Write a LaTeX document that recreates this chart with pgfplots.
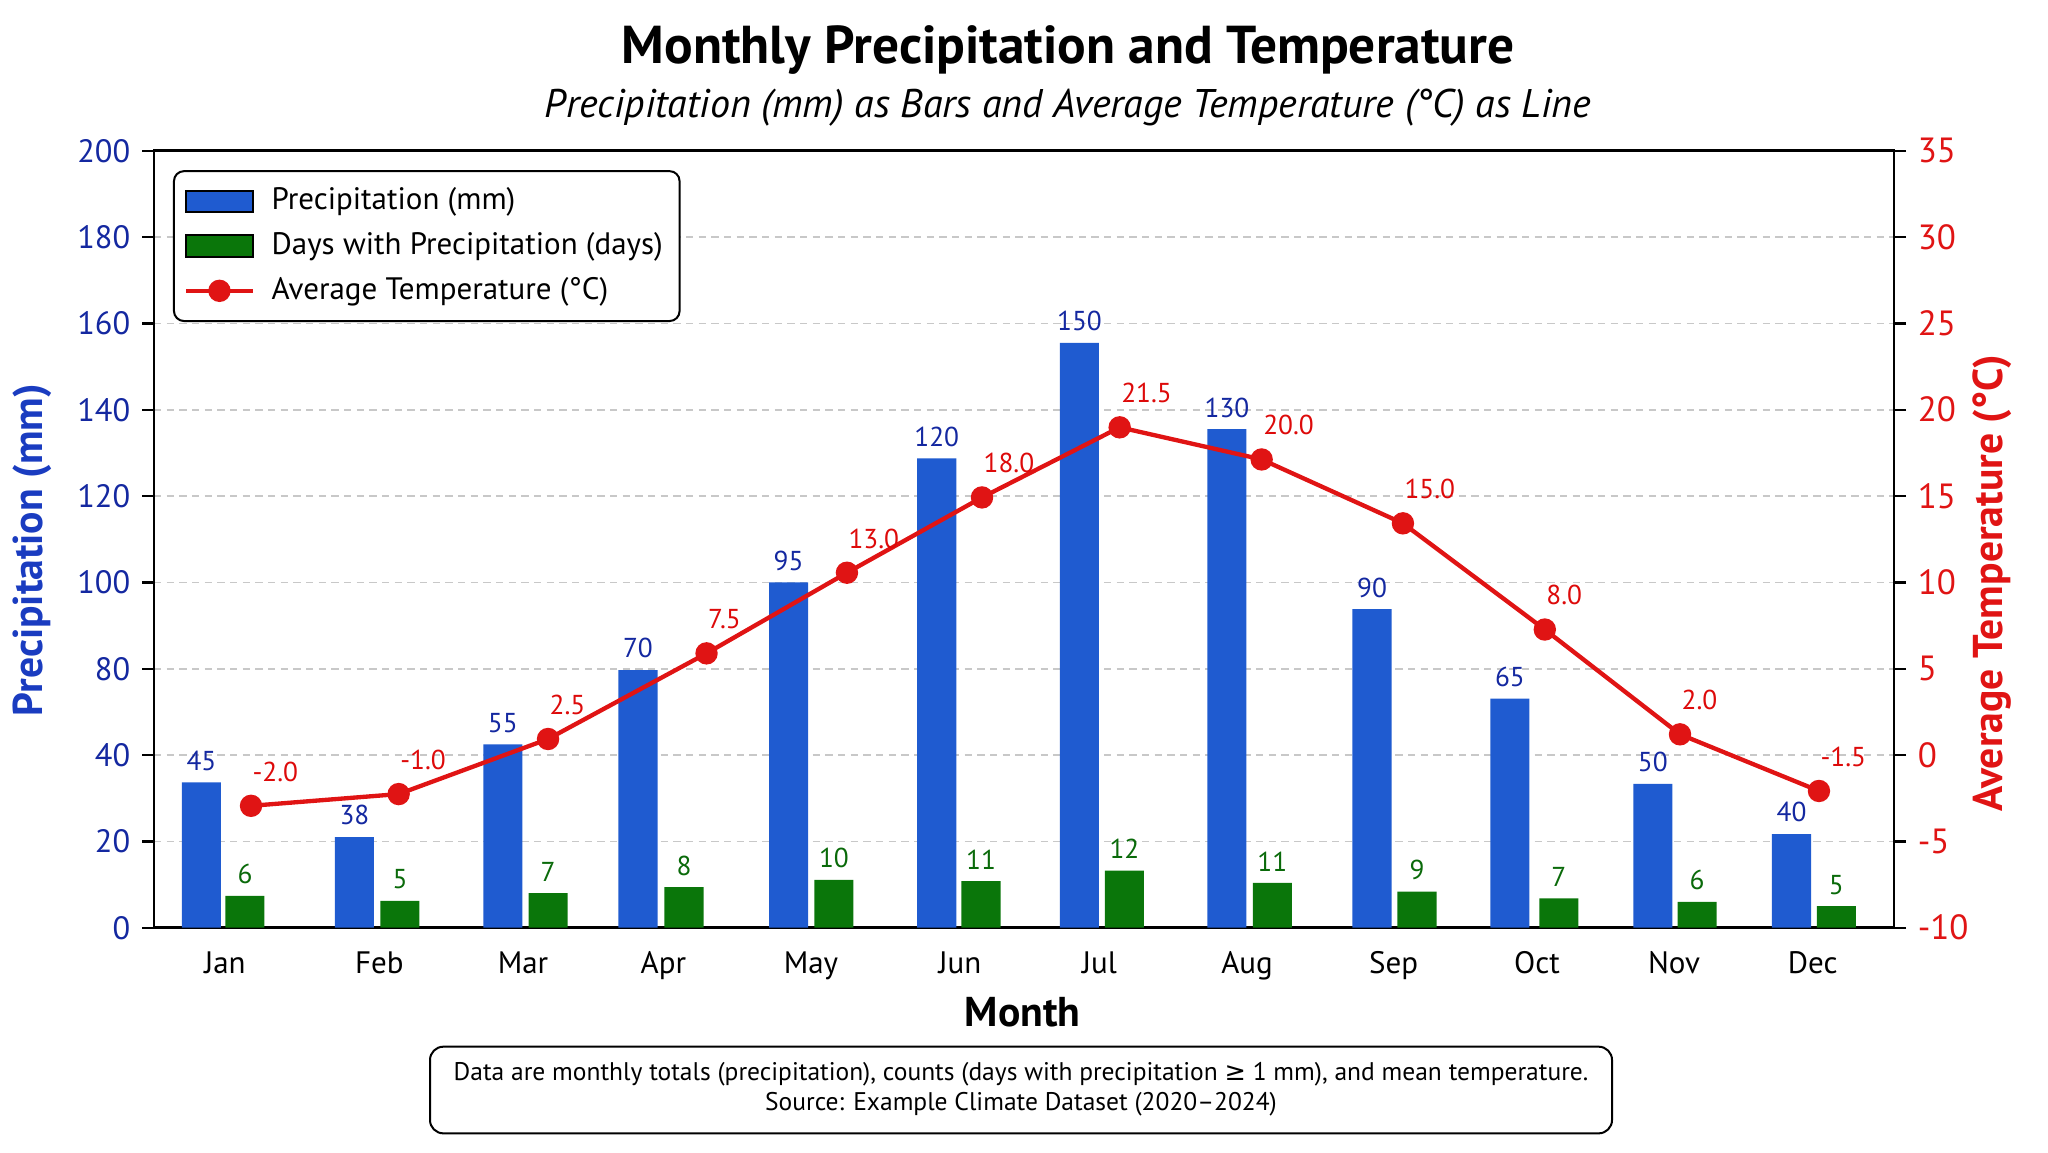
\documentclass[border=0pt]{standalone}
\usepackage{pgfplots}
\usepackage{pgfplotstable}
\pgfplotsset{compat=1.18}
\usepackage{fontspec}
\setmainfont{PT Sans}
\newfontfamily\djv{DejaVu Sans}
\definecolor{barblue}{HTML}{1F5BD0}
\definecolor{bargreen}{HTML}{0A760A}
\definecolor{tempred}{HTML}{E01414}
\definecolor{lblblue}{HTML}{1428A0}
\definecolor{lblgreen}{HTML}{0A6A0A}
\definecolor{lblred}{HTML}{DD0A0A}
\definecolor{axblue}{HTML}{1A3CC0}
\definecolor{gridgray}{HTML}{C8C8C8}

% x = month index (Jan = 0), y = bar top on the left axis grid scale, lab = printed value
\pgfplotstableread{
x y lab
-0.149 33.7 45
0.909 21.0 38
1.935 42.5 55
2.870 59.7 70
3.911 80.0 95
4.936 108.7 120
5.923 135.5 150
6.943 115.5 130
7.946 73.8 90
8.900 53.1 65
9.888 33.3 50
10.847 21.7 40
}\precip

\pgfplotstableread{
x y lab
0.152 7.4 6
1.224 6.2 5
2.248 8.0 7
3.188 9.4 8
4.225 11.1 10
5.242 10.8 11
6.234 13.2 12
7.257 10.4 11
8.257 8.35 9
9.238 6.8 7
10.194 6.0 6
11.157 5.0 5
}\days

\pgfplotstableread{
x y lab
0.194 -2.94 -2.0
1.215 -2.26 -1.0
2.248 0.93 2.5
3.344 5.89 7.5
4.315 10.56 13.0
5.249 14.92 18.0
6.201 18.98 21.5
7.183 17.12 20.0
8.160 13.42 15.0
9.141 7.27 8.0
10.076 1.20 2.0
11.037 -2.08 -1.5
}\temp

\pgfplotsset{
  common/.style={
    at={(46.2pt,-278.31pt)}, anchor=south west,
    width=522pt, height=233.1pt, scale only axis,
    xmin=-0.477, xmax=11.556,
    tick align=outside, major tick length=3.6pt,
    axis line style={line width=0.8pt, black},
    major tick style={line width=0.7pt, black},
  }
}

\begin{document}
\begin{tikzpicture}
\path[use as bounding box] (0pt,0pt) rectangle (614.4pt,-345.6pt);

\begin{axis}[
  common,
  ymin=0, ymax=180,
  xtick={0.014,1.082,2.075,3.046,4.066,5.097,6.062,7.082,8.095,9.087,10.035,10.994},
  xticklabels={Jan,Feb,Mar,Apr,May,Jun,Jul,Aug,Sep,Oct,Nov,Dec},
  xtick style={draw=none},
  xticklabel style={anchor=base, yshift=-10.2pt, font=\fontsize{9.3}{11}\selectfont, text=black},
  ytick={0,20,...,180},
  yticklabels={0,20,40,80,100,120,140,160,180,200},
  ytick pos=left,
  yticklabel style={font=\fontsize{9.7}{11}\selectfont, text=lblblue},
  ymajorgrids,
  grid style={gridgray, line width=0.5pt, dash pattern=on 2.2pt off 1.6pt},
  xlabel={Month},
  every axis x label/.style={at={(axis description cs:0.4992,-0.1085)}, anchor=center},
  xlabel style={font=\bfseries\fontsize{12.5}{14}\selectfont},
  ylabel={Precipitation (mm)},
  every axis y label/.style={at={(axis description cs:-0.0698,0.486)}, rotate=90, anchor=center},
  ylabel style={font=\bfseries\fontsize{12.5}{14}\selectfont, text=axblue},
]
\addplot[ybar, bar width=0.27, bar shift=0pt, fill=barblue, draw=none,
  nodes near coords, point meta=explicit symbolic,
  every node near coord/.append style={font=\fontsize{8.2}{9}\selectfont, text=lblblue}]
  table[x=x, y=y, meta=lab]{\precip};
\addplot[ybar, bar width=0.27, bar shift=0pt, fill=bargreen, draw=none,
  nodes near coords, point meta=explicit symbolic,
  every node near coord/.append style={font=\fontsize{8.2}{9}\selectfont, text=lblgreen}]
  table[x=x, y=y, meta=lab]{\days};
\end{axis}

\begin{axis}[
  common,
  ymin=-10, ymax=35,
  axis x line=none,
  axis y line*=right,
  ytick={-10,-5,...,35},
  yticklabels={-10,-5,0,5,10,15,20,25,30,35},
  yticklabel style={font=\fontsize{10.5}{12}\selectfont, text=tempred},
  ylabel={Average Temperature (°C)},
  every axis y label/.style={at={(axis description cs:1.0563,0.4436)}, rotate=90, anchor=center},
  ylabel style={font=\bfseries\fontsize{12.5}{14}\selectfont, text=tempred},
  legend cell align=left,
  legend style={at={(axis description cs:0.0109,0.975)}, anchor=north west,
    draw=black, line width=0.6pt, rounded corners=3pt, fill=white,
    font=\fontsize{9.3}{11}\selectfont, inner xsep=3pt, inner ysep=3pt, row sep=1.3pt},
]
\addlegendimage{legend image code/.code={\draw[sharp corners, fill=barblue, draw=black, line width=0.6pt] (0pt,-3.2pt) rectangle (20pt,3.2pt); \path (23pt,0pt);}}
\addlegendentry{Precipitation (mm)}
\addlegendimage{legend image code/.code={\draw[sharp corners, fill=bargreen, draw=black, line width=0.6pt] (0pt,-3.2pt) rectangle (20pt,3.2pt); \path (23pt,0pt);}}
\addlegendentry{Days with Precipitation (days)}
\addplot[tempred, line width=1.3pt, mark=*, mark size=2.7pt,
  mark options={fill=tempred, draw=tempred},
  nodes near coords, point meta=explicit symbolic,
  every node near coord/.append style={anchor=south west, xshift=-3.5pt, yshift=3.3pt,
    font=\fontsize{8.2}{9}\selectfont, text=lblred},
  legend image code/.code={\draw[sharp corners, tempred, line width=1.3pt] (0pt,0pt) -- (20pt,0pt); \fill[tempred] (10pt,0pt) circle (2.7pt); \path (23pt,0pt);}]
  table[x=x, y=y, meta=lab]{\temp};
\addlegendentry{Average Temperature (°C)}
\end{axis}

\node[anchor=base, font=\bfseries\fontsize{16}{19}\selectfont] at (320.4pt,-18.9pt)
  {Monthly Precipitation and Temperature};
\node[anchor=base, font=\itshape\fontsize{12}{14}\selectfont] at (320.4pt,-35.1pt)
  {Precipitation (mm) as Bars and Average Temperature (°C) as Line};

\draw[line width=0.6pt, rounded corners=4pt] (129pt,-314pt) rectangle (483.6pt,-340pt);
\node[anchor=base, font=\fontsize{7.65}{9}\selectfont] at (306.3pt,-324pt)
  {Data are monthly totals (precipitation), counts (days with precipitation {\djv ≥} 1 mm), and mean temperature.};
\node[anchor=base, font=\fontsize{7.65}{9}\selectfont] at (306.3pt,-333pt)
  {Source: Example Climate Dataset (2020–2024)};
\end{tikzpicture}
\end{document}
